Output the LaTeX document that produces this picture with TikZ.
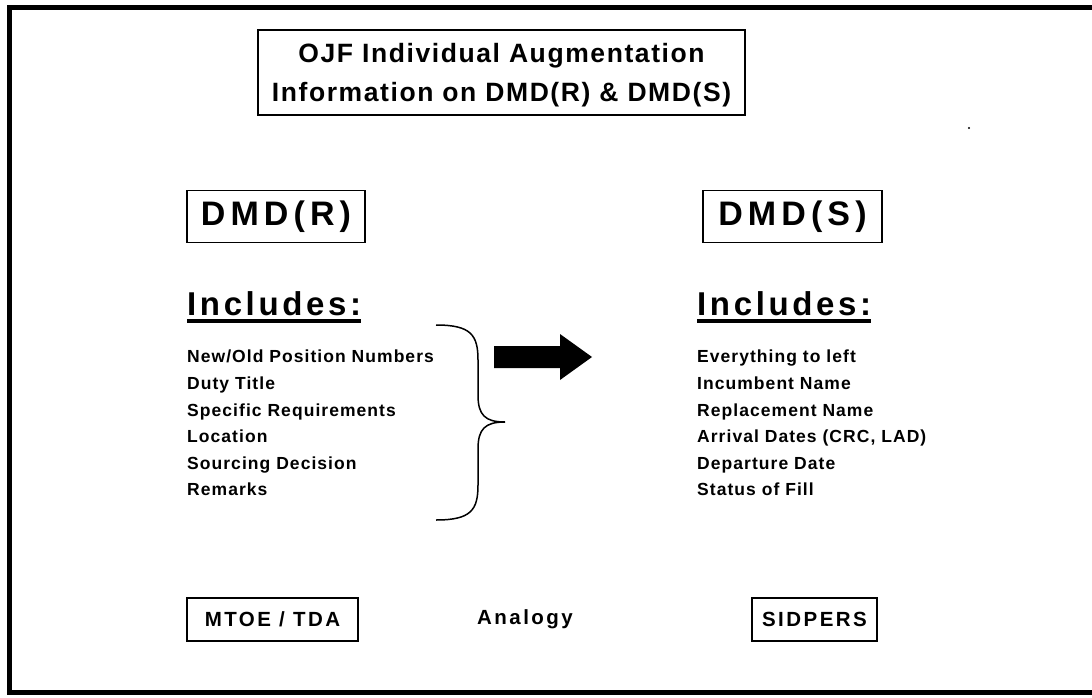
\documentclass[tikz,border=0pt]{standalone}
\usepackage{fontspec}
\setmainfont{Liberation Sans}
\newfontfamily\spc[LetterSpace=6]{Liberation Sans}
\newfontfamily\spcw[LetterSpace=15]{Liberation Sans}
\newfontfamily\spcm[LetterSpace=11]{Liberation Sans}
\newfontfamily\spct[LetterSpace=6]{Liberation Sans}
\newfontfamily\spcs[LetterSpace=12]{Liberation Sans}
\begin{document}
\begin{tikzpicture}[x=1pt,y=-1pt,
  box/.style={draw,line width=1.8pt,inner sep=0pt,minimum height=#1},
  box/.default=52,
  big/.style={font=\spcw\bfseries\fontsize{34}{36}\selectfont},
  inc/.style={font=\spcm\bfseries\fontsize{33}{36}\selectfont,anchor=base west,inner sep=0pt},
  head/.style={font=\spct\bfseries\fontsize{26.5}{38.5}\selectfont,align=center},
  item/.style={font=\spc\bfseries\fontsize{17.5}{26.6}\selectfont,align=left,anchor=north west,inner sep=0pt},
  small/.style={font=\spcs\bfseries\fontsize{20.5}{22}\selectfont}]
\useasboundingbox (0,0) rectangle (1092,698);
\fill[white] (0,0) rectangle (1092,698);
% outer frame (open on the right)
\draw[line width=5pt] (1095,8) -- (9.5,8) -- (9.5,692) -- (1095,692);
% title
\node[draw,line width=2.2pt,minimum width=487,minimum height=85] (title) at (501.5,72.5) {};
\node[head] (titletext) at ([yshift=-2.5pt]title.center)
  {OJF Individual Augmentation\\Information on DMD(R) \& DMD(S)};
% DMD boxes
\node[box,minimum width=178,big] (dmdr) at (276,216.5) {DMD(R)};
\node[box,minimum width=179,big] (dmds) at (792.5,216.5) {DMD(S)};
% Includes
\node[inc] (incl) at (187,315) {Includes:};
\node[inc] (incr) at (697,315) {Includes:};
\draw[line width=3.5pt] ([yshift=-6pt]incl.base west) -- ([yshift=-6pt]incl.base east);
\draw[line width=3.5pt] ([yshift=-6pt]incr.base west) -- ([yshift=-6pt]incr.base east);
% lists
\node[item] (listl) at (187,350) {New/Old Position Numbers\\Duty Title\\Specific Requirements\\Location\\Sourcing Decision\\Remarks};
\node[item] (listr) at (697,350) {Everything to left\\Incumbent Name\\Replacement Name\\Arrival Dates (CRC, LAD)\\Departure Date\\Status of Fill};
% brace
\coordinate (bt) at (436,325);
\coordinate (bb) at (436,520);
\coordinate (tip) at (505,422);
\draw[line width=1.5pt]
  (bt) .. controls (471,325) and (478,335) .. (478,360)
  -- (478,395) .. controls (478,415) and (485,422) .. (tip)
  (tip) .. controls (485,422) and (478,429) .. (478,449)
  -- (478,485) .. controls (478,510) and (471,520) .. (bb);
% block arrow
\coordinate (as) at (494,357);
\fill (as) ++(0,-11) -- ++(66,0) -- ++(0,-12) -- (592,357) -- (560,380) -- ++(0,-12) -- (494,368) -- cycle;
% bottom
\node[box=43,minimum width=171,small] (mtoe) at (272.5,619.5) {MTOE / TDA};
\node[small] (ana) at (525,619) {Analogy};
\node[box=43,minimum width=125,small] (sid) at (814.5,619.5) {SIDPERS};
% speck
\fill (969,128) circle (1.2);
\end{tikzpicture}
\end{document}
